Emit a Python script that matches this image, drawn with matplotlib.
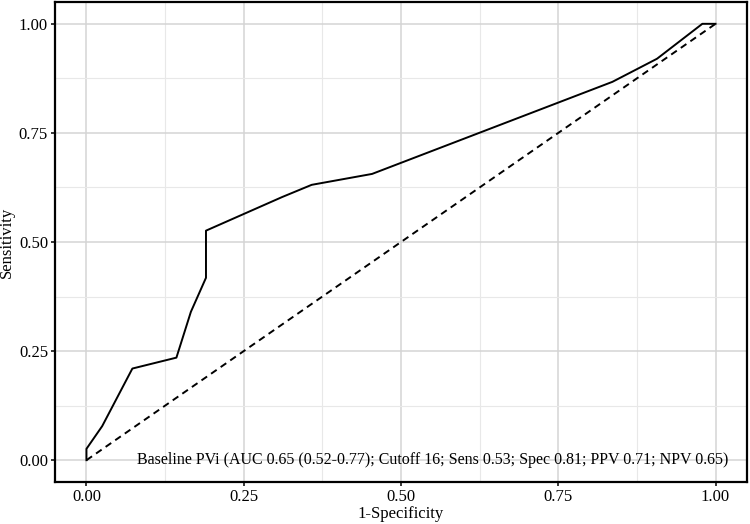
import numpy as np
import matplotlib
matplotlib.use('Agg')
import matplotlib.pyplot as plt
from matplotlib.ticker import MultipleLocator

# ROC curve points
fpr = [0.0, 0.0, 0.025, 0.073, 0.143, 0.166, 0.19, 0.19, 0.311, 0.358, 0.454, 0.836, 0.907, 0.979, 1.0]
tpr = [0.0, 0.026, 0.078, 0.21, 0.235, 0.34, 0.418, 0.526, 0.603, 0.631, 0.656, 0.867, 0.92, 1.0, 1.0]
ref_line = [0.0, 1.0]
ticks = [0.0, 0.25, 0.5, 0.75, 1.0]
tick_labels = ['0.00', '0.25', '0.50', '0.75', '1.00']
label = 'Baseline PVi (AUC 0.65 (0.52-0.77); Cutoff 16; Sens 0.53; Spec 0.81; PPV 0.71; NPV 0.65)'

plt.rcParams['font.family'] = ['Liberation Serif', 'DejaVu Serif']

fig = plt.figure(figsize=(7.5, 5.24), dpi=100)
ax = fig.add_axes([55/750, 1 - 482/524, 692/750, 480/524])

ax.plot(fpr, tpr, color='black', linewidth=1.4)
ax.plot(ref_line, ref_line, color='black', linewidth=1.4, linestyle=(0, (3.5, 2.5)))
ax.text(1.02, 0.0, label, ha='right', va='center', fontsize=11.5)

ax.set_xlim(-0.05, 1.05)
ax.set_ylim(-0.05, 1.05)
ax.set_xticks(ticks)
ax.set_xticklabels(tick_labels)
ax.set_yticks(ticks)
ax.set_yticklabels(tick_labels)
ax.xaxis.set_minor_locator(MultipleLocator(0.125))
ax.yaxis.set_minor_locator(MultipleLocator(0.125))
ax.grid(which='major', color='#d4d4d4', linewidth=1.1)
ax.grid(which='minor', color='#e8e8e8', linewidth=0.8)
ax.set_axisbelow(True)
ax.tick_params(which='major', length=3, width=1.1, color='black', labelsize=12, labelcolor='black', pad=2)
ax.tick_params(which='minor', length=0)
for s in ax.spines.values():
    s.set_linewidth(1.6)
    s.set_color('black')

ax.set_xlabel('1-Specificity', fontsize=12, labelpad=1)
ax.set_ylabel('Sensitivity', fontsize=12, labelpad=3)

fig.savefig('out.png', dpi=100)
